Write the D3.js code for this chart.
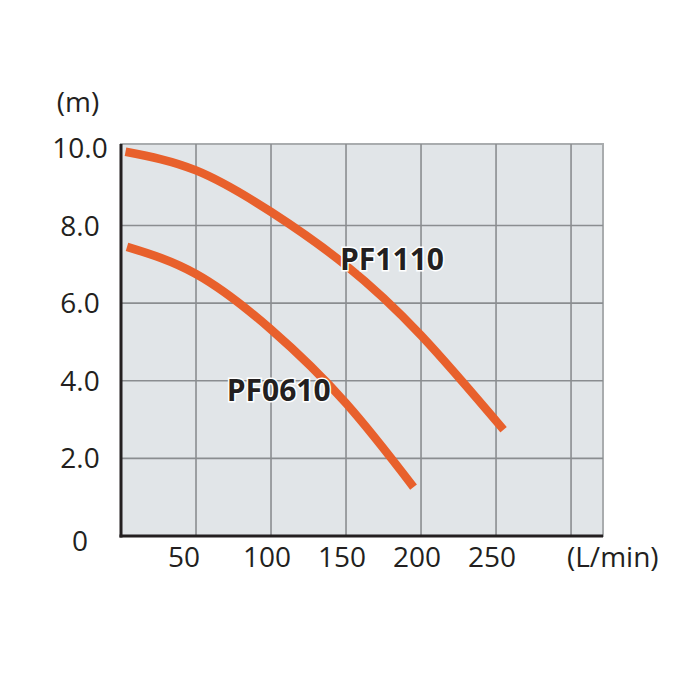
<!DOCTYPE html>
<html>
<head>
<meta charset="utf-8">
<script src="https://cdn.jsdelivr.net/npm/d3@7"></script>
<style>
  body { margin: 0; background: #fff; }
  svg { display: block; }
  text { font-family: "Open Sans", "DejaVu Sans", sans-serif; fill: #231f20; }
</style>
</head>
<body>
<svg id="chart"></svg>
<script>
// pump curves: flow (L/min) vs head (m)
const pf1110Flow = [3, 50, 100, 150, 200, 255];
const pf1110Head = [9.9, 9.42, 8.35, 6.97, 5.17, 2.74];
const pf0610Flow = [4, 50, 100, 150, 195];
const pf0610Head = [7.45, 6.75, 5.32, 3.42, 1.26];

const seriesNames = ['PF1110', 'PF0610'];
const xTicks = [50, 100, 150, 200, 250, 300];
const xTickLabels = ['50', '100', '150', '200', '250', ''];
const yTicks = [0, 2, 4, 6, 8, 10];
const yTickLabels = ['0', '2.0', '4.0', '6.0', '8.0', '10.0'];

const config = {
    containerWidth: 700,
    containerHeight: 700,
    margin: { top: 144, right: 97, bottom: 164, left: 121 }
};

const width = config.containerWidth - config.margin.left - config.margin.right;
const height = config.containerHeight - config.margin.top - config.margin.bottom;

const xScale = d3.scaleLinear().domain([0, 321.3]).range([0, width]);
const yScale = d3.scaleLinear().domain([0, 10.1]).range([height, 0]);

const svg = d3.select('#chart')
    .attr('width', config.containerWidth)
    .attr('height', config.containerHeight);

const chart = svg.append('g')
    .attr('transform', `translate(${config.margin.left},${config.margin.top})`);

// plot background
chart.append('rect')
    .attr('width', width)
    .attr('height', height)
    .attr('fill', '#e1e5e8')
    .attr('stroke', '#a9acae')
    .attr('stroke-width', 2);

// grid
chart.selectAll('.vgrid')
    .data(xTicks)
    .join('line')
    .attr('class', 'vgrid')
    .attr('x1', d => xScale(d)).attr('x2', d => xScale(d))
    .attr('y1', 0).attr('y2', height)
    .attr('stroke', '#8a8d90')
    .attr('stroke-width', 1.6);

chart.selectAll('.hgrid')
    .data(yTicks.filter(d => d > 0 && d < 10))
    .join('line')
    .attr('class', 'hgrid')
    .attr('x1', 0).attr('x2', width)
    .attr('y1', d => yScale(d)).attr('y2', d => yScale(d))
    .attr('stroke', '#8a8d90')
    .attr('stroke-width', 1.6);

// axes lines
chart.append('line')
    .attr('x1', 0).attr('x2', 0)
    .attr('y1', 0).attr('y2', height + 1.5)
    .attr('stroke', '#231f20').attr('stroke-width', 3);
chart.append('line')
    .attr('x1', -1.5).attr('x2', width)
    .attr('y1', height).attr('y2', height)
    .attr('stroke', '#231f20').attr('stroke-width', 3);

// curves
const line = d3.line()
    .x(d => xScale(d[0]))
    .y(d => yScale(d[1]))
    .curve(d3.curveNatural);

const curves = [
    d3.zip(pf1110Flow, pf1110Head),
    d3.zip(pf0610Flow, pf0610Head)
];

chart.selectAll('.curve')
    .data(curves)
    .join('path')
    .attr('class', 'curve')
    .attr('d', line)
    .attr('fill', 'none')
    .attr('stroke', '#e8602c')
    .attr('stroke-width', 8.5)
    .attr('stroke-linecap', 'butt');

// series labels (anchored at a data point on the plot)
const labelAnchors = [[146, 6.86], [70.5, 3.48]];
chart.selectAll('.series-label')
    .data(seriesNames)
    .join('text')
    .attr('class', 'series-label')
    .attr('x', (d, i) => xScale(labelAnchors[i][0]))
    .attr('y', (d, i) => yScale(labelAnchors[i][1]))
    .attr('font-size', 30)
    .attr('font-weight', 700)
    .attr('stroke', '#fff')
    .attr('stroke-width', 3)
    .attr('paint-order', 'stroke')
    .text(d => d);

// y tick labels
chart.selectAll('.ylab')
    .data(yTicks)
    .join('text')
    .attr('class', 'ylab')
    .attr('x', -41)
    .attr('y', d => yScale(d) + (d === 0 ? 5 : 0))
    .attr('dy', '0.36em')
    .attr('text-anchor', 'middle')
    .attr('font-size', 28)
    .text((d, i) => yTickLabels[i]);

// x tick labels
chart.selectAll('.xlab')
    .data(xTicks)
    .join('text')
    .attr('class', 'xlab')
    .attr('x', d => xScale(d) - (d === 50 ? 12 : 4))
    .attr('y', height + 31)
    .attr('text-anchor', 'middle')
    .attr('font-size', 28)
    .text((d, i) => xTickLabels[i]);

// units
chart.append('text')
    .attr('x', -43)
    .attr('y', -32)
    .attr('text-anchor', 'middle')
    .attr('font-size', 28)
    .text('(m)');

chart.append('text')
    .attr('x', width - 36)
    .attr('y', height + 31)
    .attr('font-size', 28)
    .text('(L/min)');
</script>
</body>
</html>
